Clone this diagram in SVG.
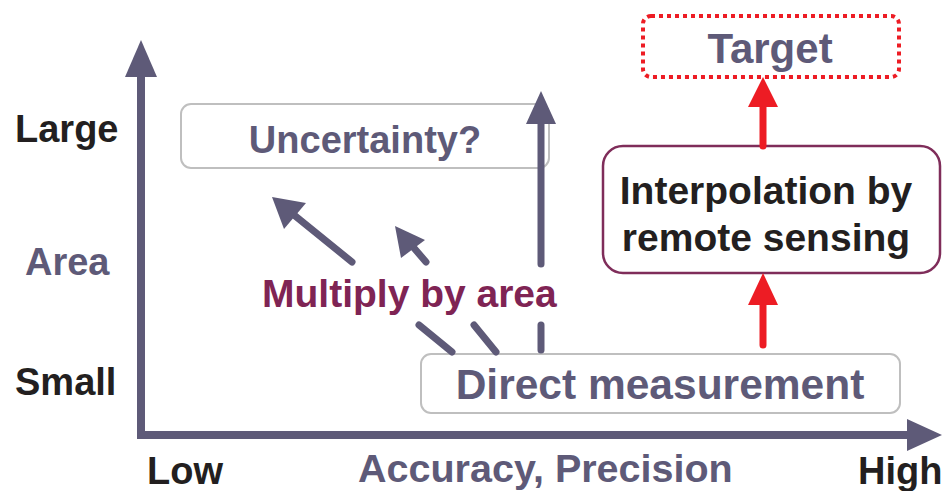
<svg xmlns="http://www.w3.org/2000/svg" width="942" height="491" viewBox="0 0 942 491">
<defs>
<style>
.t{font-family:"Liberation Sans",Arial,sans-serif;font-weight:bold;}
.slate{fill:#5e5a78;}
.dark{fill:#231f20;}
.maroon{fill:#7f2454;}
.ax{stroke:#5e5a78;stroke-width:8;fill:none;}
.ln{stroke:#5e5a78;stroke-width:7;fill:none;stroke-linecap:round;}
.rd{stroke:#ed1c24;stroke-width:7;fill:none;stroke-linecap:round;}
.gbox{fill:#fff;stroke:#bfbfbf;stroke-width:2;}
</style>
</defs>
<rect width="942" height="491" fill="#fff"/>
<g id="axes">
<path class="ax" d="M141,72 V435 H915"/>
<polygon fill="#5e5a78" points="141,40 125,77 157,77"/>
<polygon fill="#5e5a78" points="942,435 907,419 907,451"/>
</g>
<g id="labels">
<text class="t dark" x="15" y="142" font-size="38">Large</text>
<text class="t slate" x="25" y="275" font-size="38">Area</text>
<text class="t dark" x="15" y="395" font-size="38">Small</text>
<text class="t dark" x="147" y="484" font-size="38">Low</text>
<text class="t slate" x="358" y="482" font-size="39.5">Accuracy, Precision</text>
<text class="t dark" x="858" y="484" font-size="38">High</text>
</g>
<g id="uncertainty">
<rect class="gbox" x="181" y="104" width="368" height="64" rx="10"/>
<text class="t slate" x="365" y="153" font-size="38" text-anchor="middle">Uncertainty?</text>
</g>
<g id="direct">
<rect class="gbox" x="421" y="354" width="479" height="59" rx="10"/>
<text class="t slate" x="660" y="399" font-size="42.5" text-anchor="middle">Direct measurement</text>
</g>
<g id="interp">
<rect x="603" y="146" width="337" height="127" rx="20" fill="#fff" stroke="#7f2d5a" stroke-width="2.5"/>
<text class="t dark" x="766" y="204" font-size="39" text-anchor="middle">Interpolation by</text>
<text class="t dark" x="766" y="251" font-size="39" text-anchor="middle">remote sensing</text>
</g>
<g id="target">
<rect x="643" y="16" width="256" height="61" rx="8" fill="#fff" stroke="#ed1c24" stroke-width="4" stroke-dasharray="4 4"/>
<text class="t slate" x="770" y="63" font-size="42" text-anchor="middle">Target</text>
</g>
<g id="connectors">
<line class="ln" x1="541" y1="350" x2="541" y2="325"/>
<line class="ln" x1="541" y1="264" x2="541" y2="118"/>
<polygon fill="#5e5a78" points="541,91 526,124 556,124"/>
<line class="ln" x1="452" y1="352" x2="419" y2="325"/>
<line class="ln" x1="352" y1="262" x2="294" y2="215"/>
<polygon fill="#5e5a78" points="272,197 306,203 284,229"/>
<line class="ln" x1="496" y1="352" x2="474" y2="325"/>
<line class="ln" x1="426" y1="262" x2="408" y2="241"/>
<polygon fill="#5e5a78" points="395,226 425,240 401,258"/>
<line class="rd" x1="763" y1="146" x2="763" y2="102"/>
<polygon fill="#ed1c24" points="763,77 748,107 778,107"/>
<line class="rd" x1="763" y1="345" x2="763" y2="300"/>
<polygon fill="#ed1c24" points="763,273 748,305 778,305"/>
</g>
<g id="note">
<text class="t maroon" x="262" y="307" font-size="39">Multiply by area</text>
</g>
</svg>
